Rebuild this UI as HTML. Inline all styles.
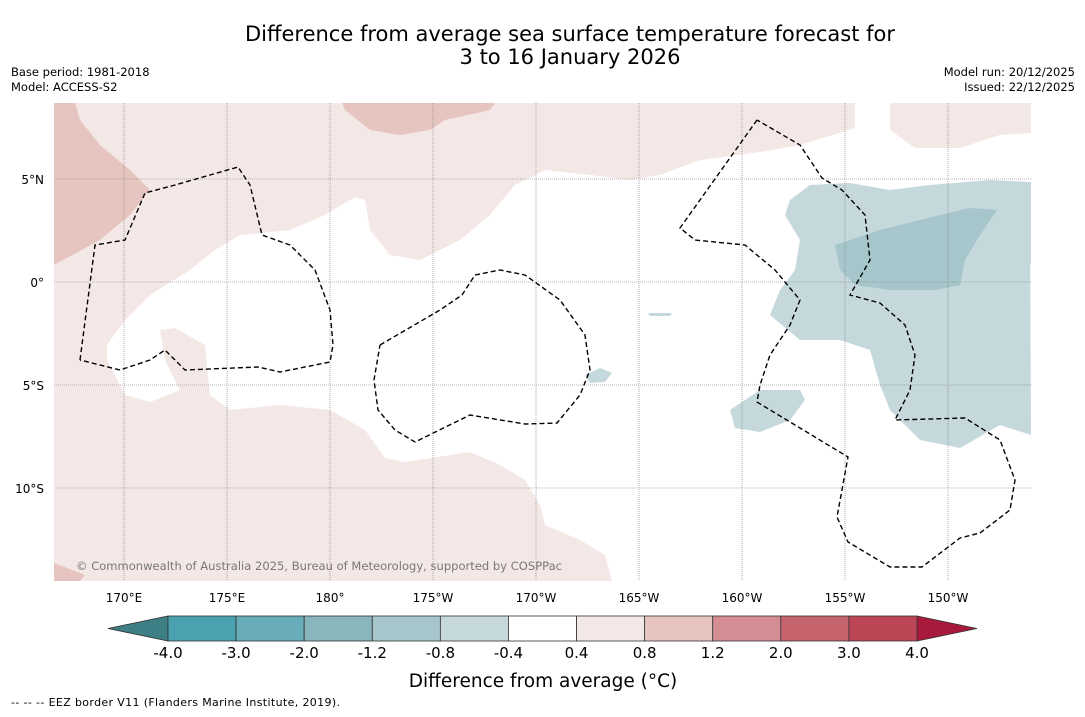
<!DOCTYPE html>
<html><head><meta charset="utf-8"><style>
body{margin:0;width:1085px;height:713px;background:#fff;font-family:"DejaVu Sans",sans-serif;overflow:hidden}
</style></head><body>
<svg width="1085" height="713" viewBox="0 0 1085 713" font-family="DejaVu Sans, sans-serif">
<text x="570" y="41" text-anchor="middle" font-size="21">Difference from average sea surface temperature forecast for</text>
<text x="570" y="64" text-anchor="middle" font-size="21">3 to 16 January 2026</text>
<text x="11" y="76" font-size="11.5">Base period: 1981-2018</text>
<text x="11" y="91" font-size="11.5">Model: ACCESS-S2</text>
<text x="1075" y="76" font-size="11.5" text-anchor="end">Model run: 20/12/2025</text>
<text x="1075" y="91" font-size="11.5" text-anchor="end">Issued: 22/12/2025</text>
<g>
<clipPath id="mc"><rect x="54" y="103" width="977" height="478"/></clipPath>
<g clip-path="url(#mc)">
<rect x="54" y="103" width="977" height="478" fill="#fff"/>
<polygon fill="#f4e8e6" points="54,103 855,103 855,128 800,145 760,152 700,160 660,175 630,180 590,175 545,170 515,185 490,215 460,240 420,260 390,255 370,230 365,200 355,197 325,215 290,230 240,235 215,250 190,270 150,295 125,320 107,345 107,360 125,395 150,402 180,390 165,360 160,330 175,328 205,345 210,395 230,410 280,405 330,410 365,430 385,458 405,462 470,452 500,465 525,480 540,505 545,525 580,540 605,555 612,581 54,581"/>
<polygon fill="#f4e8e6" points="890,103 1031,103 1031,133 1000,135 960,148 915,148 890,130"/>
<polygon fill="#e6c5c0" points="54,103 75,103 80,120 100,145 130,170 150,190 130,215 100,240 54,265"/>
<polygon fill="#e6c5c0" points="342,103 495,103 490,110 445,120 430,130 400,135 370,130 345,110"/>
<polygon fill="#e6c5c0" points="54,563 85,575 80,581 54,581"/>
<polygon fill="#c5d8dc" points="790,200 810,185 850,183 890,190 930,185 990,180 1031,182 1031,265 1020,250 1030,230 1031,435 1000,425 960,448 920,440 890,410 880,385 870,350 840,340 800,340 770,315 780,290 795,270 800,240 785,215"/>
<polygon fill="#c5d8dc" points="730,410 760,390 800,390 805,400 790,420 760,432 735,428"/>
<polygon fill="#c5d8dc" points="585,375 600,368 612,373 605,382 590,383"/>
<polygon fill="#c5d8dc" points="648,313 672,313 670,316 650,316"/>
<polygon fill="#a6c6cb" points="835,245 880,230 940,215 970,208 997,210 980,235 965,260 960,285 935,290 890,290 855,285 840,270"/>
<g id="grid" stroke="#777" stroke-width="0.6" stroke-dasharray="1,1"></g>
<g fill="none" stroke="#000" stroke-width="1.4" stroke-dasharray="5,3">
<polyline points="80,360 95,245 125,240 145,193 175,185 238,167 250,185 262,235 290,245 315,270 330,310 333,345 330,362 280,372 258,367 185,370 165,350 150,360 120,370 80,360"/>
<polyline points="380,345 440,310 462,295 475,275 500,270 525,275 560,300 585,335 590,370 580,395 557,423 525,424 470,415 415,442 395,430 378,410 374,380 380,345"/>
<polyline points="757,120 680,228 695,240 745,245 775,270 800,300 790,325 770,355 760,385 757,402 848,457 837,517 848,542 890,567 922,567 960,538 980,533 1010,510 1015,480 1000,440 965,418 895,420 910,390 915,355 905,325 880,303 850,295 870,260 865,215 842,190 822,178 800,145 757,120"/>
</g>
<text x="76" y="570" font-size="11.5" fill="#777" textLength="486">© Commonwealth of Australia 2025, Bureau of Meteorology, supported by COSPPac</text>
</g>
</g>
<g id="axlabels" font-size="12"></g>
<g id="cbar"></g>
<text x="543" y="687" text-anchor="middle" font-size="18.5">Difference from average (°C)</text>
<text x="11" y="706" font-size="11" textLength="329">-- -- -- EEZ border V11 (Flanders Marine Institute, 2019).</text>
</svg>
<script>
const lonLabels=["170°E","175°E","180°","175°W","170°W","165°W","160°W","155°W","150°W"];
const lonValues=[170,175,180,185,190,195,200,205,210];
const latLabels=["5°N","0°","5°S","10°S"];
const latValues=[5,0,-5,-10];
const cbarTicks=["-4.0","-3.0","-2.0","-1.2","-0.8","-0.4","0.4","0.8","1.2","2.0","3.0","4.0"];
const cbarColors=["#4aa2b1","#68adb9","#88b6bc","#a6c6cb","#c5d8dc","#ffffff","#f4e8e6","#e6c5c0","#d48e93","#c6646d","#bd4656"];
const NS="http://www.w3.org/2000/svg";
const xLon=l=>124+(l-170)*20.6;
const yLat=l=>282-l*20.6;
const grid=document.getElementById('grid'),ax=document.getElementById('axlabels'),cb=document.getElementById('cbar');
function mk(t,a,p){const e=document.createElementNS(NS,t);for(const k in a)e.setAttribute(k,a[k]);p.appendChild(e);return e;}
lonValues.forEach((v,i)=>{
 const l=mk('line',{x1:xLon(v),x2:xLon(v),y1:103,y2:581},grid);
 
 
 const t=mk('text',{x:xLon(v),y:602,'text-anchor':'middle'},ax);t.textContent=lonLabels[i];
 
 
});
latValues.forEach((v,i)=>{
 const l=mk('line',{x1:54,x2:1031,y1:yLat(v),y2:yLat(v)},grid);
 
 
 const t=mk('text',{x:44,y:yLat(v)+5,'text-anchor':'end'},ax);t.textContent=latLabels[i];
 
 
});
const x0=168,w=(917-168)/cbarColors.length,y0=616,h=25;
const lt=mk('polygon',{points:`108,${y0+h/2} ${x0},${y0} ${x0},${y0+h}`,fill:'#3e7f86',stroke:'#333','stroke-width':0.8},cb);


const rt=mk('polygon',{points:`977,${y0+h/2} 917,${y0} 917,${y0+h}`,fill:'#a81a3b',stroke:'#333','stroke-width':0.8},cb);


cbarColors.forEach((c,i)=>{
 const r=mk('rect',{x:x0+i*w,y:y0,width:w,height:h,fill:c,stroke:'#333','stroke-width':0.8},cb);
 
 
});
cbarTicks.forEach((s,i)=>{
 const t=mk('text',{x:x0+i*w,y:658,'text-anchor':'middle','font-size':15},cb);t.textContent=s;
 
 
});
</script>
</body></html>
